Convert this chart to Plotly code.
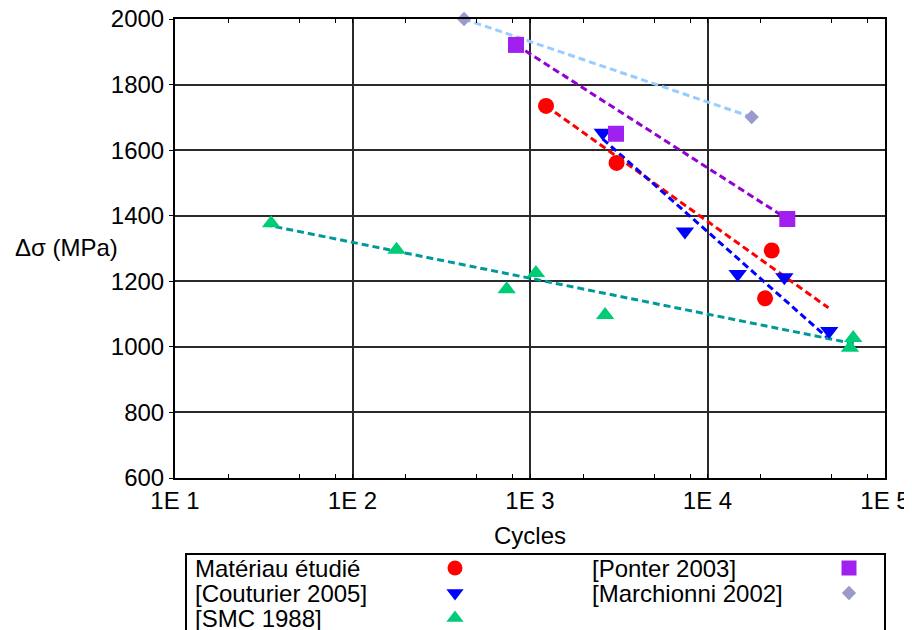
import plotly.graph_objects as go

# data (cycles, stress range in MPa)
mat_x = [1231, 3075, 23000, 21100]
mat_y = [1735, 1561, 1294, 1148]
mat_fit_x = [1231, 48000]
mat_fit_y = [1735, 1119]

cout_x = [2570, 7460, 14800, 27100, 48500]
cout_y = [1653, 1352, 1222, 1212, 1048]
cout_fit_x = [2570, 48500]
cout_fit_y = [1634, 1023]

smc_x = [34.8, 177, 739, 1080, 2650, 66200, 63500]
smc_y = [1377, 1296, 1176, 1225, 1097, 1027, 997]
smc_fit_x = [32, 69000]
smc_fit_y = [1373, 1008]

ponter_x = [834, 3052, 28150]
ponter_y = [1921, 1650, 1390]
ponter_fit_x = [834, 28150]
ponter_fit_y = [1921, 1390]

march_x = [425, 17740]
march_y = [2000, 1701]
march_fit_x = [425, 17740]
march_fit_y = [2000, 1701]

x_tickvals = [10, 100, 1000, 10000, 100000]
x_ticktext = ["1E 1", "1E 2", "1E 3", "1E 4", "1E 5"]
x_minor = [m * 10 ** k for k in range(1, 5) for m in (2, 5, 8)]
y_tickvals = [600, 800, 1000, 1200, 1400, 1600, 1800, 2000]

series = [
    # name, x, y, symbol, color, size, fit x, fit y, fit color
    ("Matériau étudié", mat_x, mat_y, "circle", "#ff0000", 16, mat_fit_x, mat_fit_y, "#ff0000"),
    ("[Couturier 2005]", cout_x, cout_y, "triangle-down", "#0000ff", 16, cout_fit_x, cout_fit_y, "#0000ff"),
    ("[SMC 1988]", smc_x, smc_y, "triangle-up", "#00cc77", 16, smc_fit_x, smc_fit_y, "#009999"),
    ("[Ponter 2003]", ponter_x, ponter_y, "square", "#a020f0", 16, ponter_fit_x, ponter_fit_y, "#9400d3"),
    ("[Marchionni 2002]", march_x, march_y, "diamond", "#9a9acc", 11, march_fit_x, march_fit_y, "#99ccff"),
]

# the page puts the plot 8px in from the top-left corner of the window
OFF = 8
W, H = 912 - OFF, 630 - OFF
FONT = "Liberation Sans, Arial, sans-serif"
FS = 24


def px(x):
    return (x - OFF) / W


def py(y):
    return 1 - (y - OFF) / H


fig = go.Figure()

for name, x, y, sym, col, size, fx, fy, fcol in series:
    fig.add_trace(go.Scatter(
        x=fx, y=fy, mode="lines",
        line=dict(color=fcol, width=3, dash="7px,4px"),
        showlegend=False, cliponaxis=False
    ))

for name, x, y, sym, col, size, fx, fy, fcol in series:
    fig.add_trace(go.Scatter(
        x=x, y=y, mode="markers", name=name,
        marker=dict(symbol=sym, color=col, size=size, line=dict(width=0)),
        showlegend=False, cliponaxis=False
    ))

# hand-made legend box below the plot (text, then the symbol on the right)
leg_left, leg_right, leg_top = 186, 885, 554
row_y = [568, 593, 618]
cols = [(193, 455), (590, 849)]
for i, (name, x, y, sym, col, size, fx, fy, fcol) in enumerate(series):
    tx, kx = cols[i // 3]
    ry = row_y[i % 3]
    fig.add_annotation(
        x=px(tx), y=py(ry), xref="paper", yref="paper",
        text=name, showarrow=False, xanchor="left", yanchor="middle",
        font=dict(size=FS, color="black", family=FONT)
    )
    fig.add_trace(go.Scatter(
        x=[kx - OFF], y=[ry - OFF], mode="markers", xaxis="x2", yaxis="y2",
        marker=dict(symbol=sym, color=col, size=min(size, 15), line=dict(width=0)),
        showlegend=False, cliponaxis=False, hoverinfo="skip"
    ))

fig.add_shape(
    type="rect", xref="paper", yref="paper",
    x0=px(leg_left), x1=px(leg_right), y0=py(leg_top), y1=-0.05,
    line=dict(color="black", width=2), fillcolor="rgba(0,0,0,0)"
)

fig.add_annotation(
    x=px(66), y=py(247), xref="paper", yref="paper",
    text="Δσ (MPa)", showarrow=False, xanchor="center", yanchor="middle",
    font=dict(size=FS, color="black", family=FONT)
)

fig.update_layout(
    width=W, height=H,
    margin=dict(l=0, r=0, t=0, b=0),
    paper_bgcolor="white", plot_bgcolor="rgba(0,0,0,0)",
    showlegend=False,
    font=dict(family=FONT, size=FS, color="black"),
    xaxis=dict(
        type="log", range=[1, 5], domain=[px(175), px(885)], automargin=False,
        tickvals=x_tickvals, ticktext=x_ticktext, ticklabeloverflow="allow",
        showgrid=True, gridcolor="#2a2a2a", gridwidth=1.5,
        showline=True, linecolor="black", linewidth=2, mirror="allticks",
        ticks="inside", ticklen=4, tickcolor="black",
        minor=dict(tickvals=x_minor, ticks="inside", ticklen=4, tickcolor="black", showgrid=False),
        tickfont=dict(size=FS), zeroline=False,
        title=dict(text="Cycles", font=dict(size=FS), standoff=14),
    ),
    yaxis=dict(
        range=[600, 2000], domain=[py(478), py(19)], automargin=False,
        tickvals=y_tickvals, ticklabeloverflow="allow",
        showgrid=True, gridcolor="#2a2a2a", gridwidth=1.5,
        showline=True, linecolor="black", linewidth=2, mirror=True,
        ticks="outside", ticklen=4, tickcolor="black",
        tickfont=dict(size=FS), zeroline=False,
    ),
    xaxis2=dict(range=[0, W], domain=[0, 1], anchor="y2", visible=False,
                fixedrange=True, automargin=False),
    yaxis2=dict(range=[H, 0], domain=[0, 1], anchor="x2", visible=False,
                fixedrange=True, automargin=False),
)

fig.write_html("out.html")
